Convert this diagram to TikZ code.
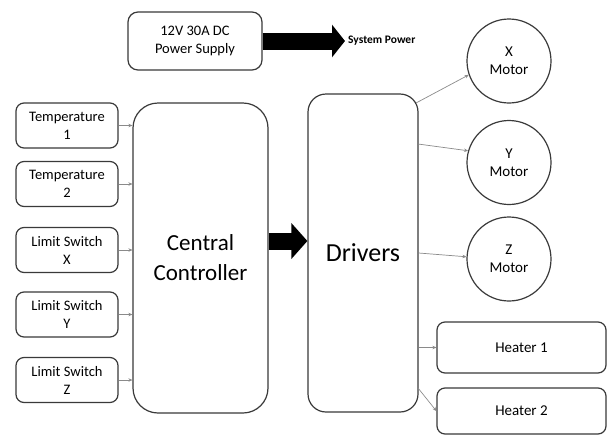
\documentclass[tikz,border=0pt]{standalone}
\usepackage{fontspec}
\setmainfont{Carlito}
\usetikzlibrary{arrows.meta,calc}
\definecolor{edge}{HTML}{3A3A3A}
\definecolor{wire}{HTML}{8A8A8A}
\begin{document}
\begin{tikzpicture}[x=1pt,y=-1pt,
  box/.style={draw=edge,line width=1.2pt,rounded corners=8pt,align=center,inner sep=0pt},
  smallfont/.style={font=\fontsize{14.5}{18}\selectfont},
  motor/.style={draw=edge,line width=1.2pt,circle,minimum size=84pt,inner sep=0pt,align=center,font=\fontsize{15}{18}\selectfont},
  conn/.style={draw=wire,line width=0.7pt,-{Stealth[length=4pt,width=3.5pt]}},
  bigarrow/.style={line width=17pt,draw=black,-{Triangle[length=13pt,width=32pt]}}]
\useasboundingbox[fill=white] (0,0) rectangle (608,437);

% power supply
\node[box,smallfont,rounded corners=10pt,minimum width=134pt,minimum height=58pt] (ps) at (195,41) {12V 30A DC\\Power Supply};
\node[anchor=west,inner sep=3pt,font=\bfseries\fontsize{11.5}{14}\selectfont] (sp) at (345,41) {System Power};
\draw[bigarrow] (ps.east) -- (sp.west);

% inputs
\node[box,smallfont,minimum width=102pt,minimum height=45pt] (t1) at (67,125.5) {Temperature\\1};
\node[box,smallfont,minimum width=102pt,minimum height=45pt] (t2) at (67,184) {Temperature\\2};
\node[box,smallfont,minimum width=102pt,minimum height=45pt] (lx) at (67,250) {Limit Switch\\X};
\node[box,smallfont,minimum width=102pt,minimum height=45pt] (ly) at (67,314.5) {Limit Switch\\Y};
\node[box,smallfont,minimum width=102pt,minimum height=45pt] (lz) at (67,380) {Limit Switch\\Z};

% controller
\node[box,rounded corners=25pt,minimum width=135pt,minimum height=310pt,font=\fontsize{23}{30}\selectfont] (cc) at (200.5,258) {Central\\Controller};
\foreach \n in {t1,t2,lx,ly,lz}
  \draw[conn] (\n.east) -- (\n.east -| cc.west);

% drivers
\node[box,rounded corners=18pt,minimum width=110pt,minimum height=318pt,font=\fontsize{26}{30}\selectfont] (dr) at (363,253) {Drivers};
\coordinate (a2) at (268,241);
\draw[bigarrow,-{Triangle[length=16pt,width=35pt]}] (a2 -| cc.east) -- (a2 -| dr.west);

% motors
\node[motor] (mx) at (509,61) {X\\Motor};
\node[motor] (my) at (509,162.5) {Y\\Motor};
\node[motor] (mz) at (509,259) {Z\\Motor};

% heaters
\node[box,font=\fontsize{15}{18}\selectfont,minimum width=169pt,minimum height=51pt] (h1) at (521.5,347.5) {Heater 1};
\node[box,font=\fontsize{15}{18}\selectfont,minimum width=169pt,minimum height=46pt] (h2) at (521.5,411) {Heater 2};

% driver outputs
\coordinate (dx) at (416,103);
\coordinate (dy) at (418,144);
\coordinate (dh2) at (418,388);
\draw[conn] (dx) -- (mx.199);
\draw[conn] (dy) -- (my.164);
\draw[conn] (dr.east) -- (mz.177);
\draw[conn] (dr.east |- h1.west) -- (h1.west);
\draw[conn] (dh2) -- (h2.west);
\end{tikzpicture}
\end{document}
